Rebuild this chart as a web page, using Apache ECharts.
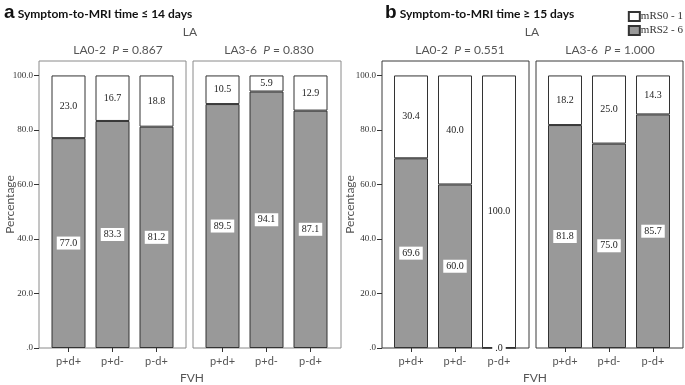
<!DOCTYPE html>
<html>
<head>
<meta charset="utf-8">
<script src="https://cdn.jsdelivr.net/npm/echarts@6/dist/echarts.min.js"></script>
<style>html,body{margin:0;padding:0;background:#fff;}#c{width:685px;height:385px;}</style>
</head>
<body>
<div id="c"></div>
<script>
// ---- data ----
const categories = ['p+d+', 'p+d-', 'p-d+'];
const seriesNames = ['mRS0-1', 'mRS2-6'];
const yTicks = [0, 20, 40, 60, 80, 100];

// Panel a: Symptom-to-MRI time <= 14 days
const a_LA02_mRS26 = [77.0, 83.3, 81.2];
const a_LA02_mRS01 = [23.0, 16.7, 18.8];
const a_LA36_mRS26 = [89.5, 94.1, 87.1];
const a_LA36_mRS01 = [10.5, 5.9, 12.9];
// Panel b: Symptom-to-MRI time >= 15 days
const b_LA02_mRS26 = [69.6, 60.0, 0.0];
const b_LA02_mRS01 = [30.4, 40.0, 100.0];
const b_LA36_mRS26 = [81.8, 75.0, 85.7];
const b_LA36_mRS01 = [18.2, 25.0, 14.3];

const subTitles = [
  {group: 'LA0-2', p: '0.867'}, {group: 'LA3-6', p: '0.830'},
  {group: 'LA0-2', p: '0.551'}, {group: 'LA3-6', p: '1.000'}
];

// ---- layout ----
const YMAX = 105.3;
const TOP = 61, H = 287;
const frames = [
  {left: 39, width: 147, color: '#8a8a8a', yaxis: true, inner: 46.5},
  {left: 193, width: 148, color: '#8a8a8a', yaxis: false, inner: 200.5},
  {left: 382, width: 147, color: '#3a3a3a', yaxis: true, inner: 389},
  {left: 536, width: 147, color: '#3a3a3a', yaxis: false, inner: 543}
];
const panelData = [
  [a_LA02_mRS01, a_LA02_mRS26],
  [a_LA36_mRS01, a_LA36_mRS26],
  [b_LA02_mRS01, b_LA02_mRS26],
  [b_LA36_mRS01, b_LA36_mRS26]
];

const grid = [], xAxis = [], yAxis = [], series = [];
const fmt = v => v === 0 ? '.0' : v.toFixed(1);
const serif = '"Liberation Serif", "DejaVu Serif", serif';
const sans = 'Lato, "Open Sans", sans-serif';

frames.forEach((f, i) => {
  // frame grid (border + y axis)
  grid.push({left: f.left, top: TOP, width: f.width, height: H, show: true,
    borderColor: f.color, borderWidth: 1, backgroundColor: 'transparent', outerBoundsMode: 'none'});
  const fg = grid.length - 1;
  xAxis.push({type: 'value', gridIndex: fg, min: 0, max: 1, show: false});
  yAxis.push({type: 'value', gridIndex: fg, min: 0, max: YMAX, interval: 20, show: f.yaxis,
    splitLine: {show: false}, axisLine: {show: false},
    axisTick: {show: true, length: 5, customValues: yTicks, lineStyle: {color: '#333', width: 1}},
    axisLabel: {customValues: yTicks, formatter: fmt, fontFamily: serif, fontSize: 9, color: '#333', margin: 6},
    name: 'Percentage', nameLocation: 'middle', nameGap: i === 0 ? 23 : 26, nameRotate: 90,
    nameMoveOverlap: false,
    nameTextStyle: {fontFamily: sans, fontSize: 12, color: '#555'}});
  // inner grid (bars)
  grid.push({left: f.inner, top: TOP, width: 132, height: H, outerBoundsMode: 'none'});
  const ig = grid.length - 1;
  xAxis.push({type: 'category', gridIndex: ig, data: categories,
    axisLine: {show: false},
    axisTick: {show: true, alignWithLabel: true, length: 4, lineStyle: {color: '#333'}},
    axisLabel: {fontFamily: sans, fontSize: 11, color: '#555', margin: 8}});
  yAxis.push({type: 'value', gridIndex: ig, min: 0, max: YMAX, show: false, splitLine: {show: false}});
  const axIdx = xAxis.length - 1;
  // stacked bars: gray mRS2-6 at bottom, white mRS0-1 on top
  series.push({
    name: seriesNames[1], type: 'bar', stack: 'p' + i, xAxisIndex: axIdx, yAxisIndex: axIdx,
    data: panelData[i][1], barWidth: 34,
    itemStyle: {color: '#999999', borderColor: '#333', borderWidth: 1},
    label: {show: true, position: 'inside', formatter: p => fmt(p.value), fontFamily: serif, fontSize: 10,
      color: '#222', backgroundColor: '#fff', padding: [2, 3, 1, 3]}
  });
  series.push({
    name: seriesNames[0], type: 'bar', stack: 'p' + i, xAxisIndex: axIdx, yAxisIndex: axIdx,
    data: panelData[i][0], barWidth: 34,
    itemStyle: {color: '#ffffff', borderColor: '#333', borderWidth: 1},
    label: {show: true, position: 'inside', formatter: p => fmt(p.value), fontFamily: serif, fontSize: 10,
      color: '#222'}
  });
});

const titleItems = [
  {text: '{a|a} {t|Symptom-to-MRI time ≤ 14 days}', left: 4, top: 3},
  {text: '{a|b} {t|Symptom-to-MRI time ≥ 15 days}', left: 385, top: 3},
  {text: 'LA', left: 190, top: 26, center: true},
  {text: 'LA', left: 532, top: 26, center: true},
  {text: 'FVH', left: 192, top: 372, center: true},
  {text: 'FVH', left: 535, top: 372, center: true}
];
const subCenters = [118, 269, 460, 610];
const title = titleItems.map(t => ({
  text: t.text, left: t.left, top: t.top, padding: 0,
  textAlign: t.center ? 'center' : 'left',
  textStyle: {fontFamily: sans, fontSize: 12, fontWeight: 'normal', color: '#555',
    rich: {a: {fontFamily: '"Liberation Sans", sans-serif', fontSize: 19, fontWeight: 'bold', color: '#111'},
           t: {fontFamily: sans, fontSize: 12, fontWeight: 'bold', color: '#111', padding: [3, 0, 0, 0]}}}
}));
subTitles.forEach((s, i) => {
  title.push({text: '{n|' + s.group + '  }{i|P}{n| = ' + s.p + '}', left: subCenters[i], top: 44,
    textAlign: 'center', padding: 0,
    textStyle: {fontWeight: 'normal',
      rich: {n: {fontFamily: sans, fontSize: 12, color: '#555', fontWeight: 'normal'},
             i: {fontFamily: sans, fontSize: 12, color: '#555', fontStyle: 'italic', fontWeight: 'normal'}}}});
});

const chart = echarts.init(document.getElementById('c'), null, {renderer: 'canvas'});
chart.setOption({
  animation: false,
  backgroundColor: '#fff',
  title: title,
  legend: {data: seriesNames, orient: 'vertical', right: 2, top: 11, itemWidth: 11, itemHeight: 9, itemGap: 3,
    padding: 0, selectedMode: false, icon: 'rect',
    formatter: n => n.replace('-', ' - '),
    textStyle: {fontFamily: serif, fontSize: 11, color: '#333', padding: [0, 0, 0, -4]}},
  grid: grid, xAxis: xAxis, yAxis: yAxis, series: series
});
</script>
</body>
</html>
